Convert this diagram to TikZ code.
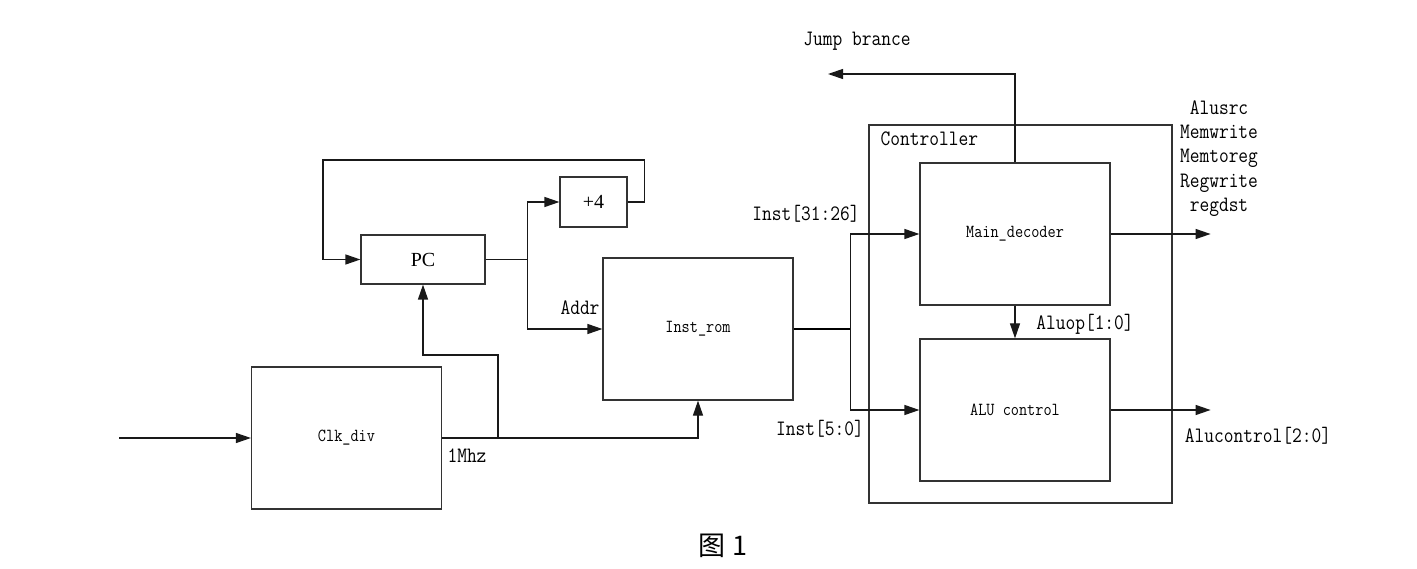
\documentclass[tikz,border=0pt]{standalone}
\usepackage{fontspec}
\usepackage{tikz}
\usetikzlibrary{arrows.meta,positioning}
\newfontfamily\sigfont[FakeStretch=0.86]{Latin Modern Mono}
\newfontfamily\pcfont{Liberation Serif}
\newfontfamily\capfont{Noto Sans CJK SC}

\begin{document}
\begin{tikzpicture}[
    x=1pt, y=-1pt,
    line width=1.2pt,
    every node/.style={inner sep=0pt},
    unit/.style={draw=black!80, minimum width=190pt, minimum height=142pt,
                 font=\sigfont\fontsize{18.4}{20}\selectfont},
    small/.style={draw=black!80, font=\pcfont\fontsize{20}{24}\selectfont},
    sig/.style={font=\sigfont\fontsize{22}{24.3}\selectfont},
    arrow/.style={-{Triangle[length=15pt,width=10pt]}, black!90}
]
\useasboundingbox (0,0) rectangle (1417,569);
\node[unit] (clkdiv) at (346.5,438) {Clk\_div};
\node[small, minimum width=124pt, minimum height=49pt] (pc) at (423,259.5) {PC};
\node[small, minimum width=67pt, minimum height=50pt] (plus4) at (593.5,202) {+4};
\node[unit] (rom) at (698,329) {Inst\_rom};
\node[draw=black!80, minimum width=303pt, minimum height=378pt] (ctrl) at (1020.5,314) {};
\node[sig, anchor=north west] (ctrlname) at (880,131) {Controller};
\node[unit] (maindec) at (1015,234) {Main\_decoder};
\node[unit] (aluctl) at (1015,410) {ALU control};
\coordinate (clkin) at (119,438);
\coordinate (jump) at (828,74);
\coordinate[right=100pt of maindec.east] (ctlout);
\coordinate[right=100pt of aluctl.east] (aluout);
\draw[arrow] (clkin) -- (clkdiv.west);
\draw[arrow] (plus4.east) -- ++(17,0) |- (323,160) |- (pc.west);
\draw[arrow] (pc.east) -- ++(42,0) |- (plus4.west);
\draw[arrow] (pc.east) -- ++(42,0) |- (rom.west);
\draw[arrow] (clkdiv.east) -| (498,355) -| (pc.south);
\draw[arrow] (clkdiv.east) -| (rom.south);
\draw (rom.east) -- ++(57,0) coordinate (bus);
\draw[arrow] (bus) |- (maindec.west);
\draw[arrow] (bus) |- (aluctl.west);
\draw[arrow] (maindec.south) -- (aluctl.north);
\draw[arrow] (maindec.north) |- (jump);
\draw[arrow] (maindec.east) -- (ctlout);
\draw[arrow] (aluctl.east) -- (aluout);
\node[sig] (addr) at (580,308) {Addr};
\node[sig] (mhz) at (467,456) {1Mhz};
\node[sig] (opcode) at (806,214) {Inst[31:26]};
\node[sig] (funct) at (820,429) {Inst[5:0]};
\node[sig] (aluop) at (1085,324) {Aluop[1:0]};
\node[sig] (jumplbl) at (857,41) {Jump brance};
\node[sig, align=center] (ctlsig) at (1219,158.5) {Alusrc\\Memwrite\\Memtoreg\\Regwrite\\regdst};
\node[sig] (alusig) at (1258,436) {Alucontrol[2:0]};
\node[font=\capfont\fontsize{27}{30}\selectfont] (caption) at (723,546) {图 1};
\end{tikzpicture}
\end{document}
